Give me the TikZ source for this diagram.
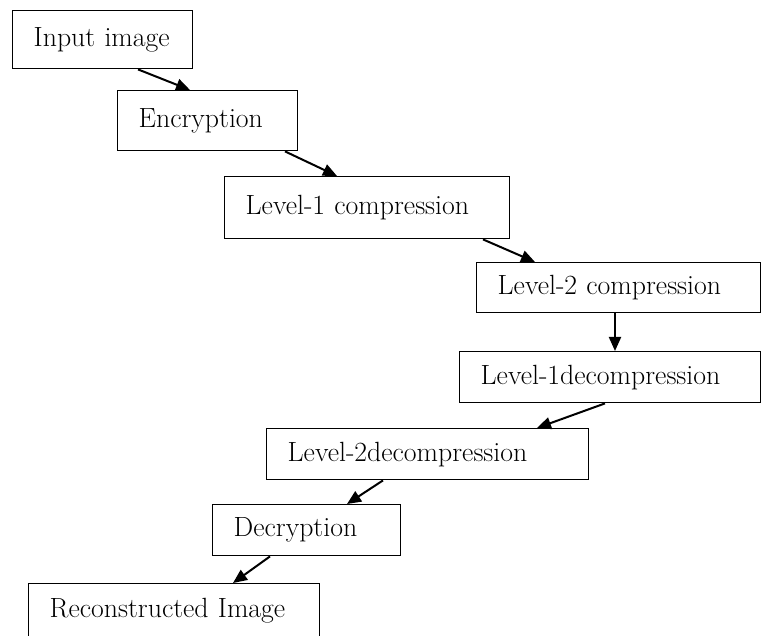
\documentclass[tikz,border=0pt]{standalone}
\usepackage{tikz}
\usetikzlibrary{arrows.meta}

\begin{document}
\begin{tikzpicture}[x=1pt,y=1pt,
stage/.style={draw,line width=1.4pt,anchor=north west,align=left,inner xsep=21pt,inner ysep=0pt,font=\fontsize{27.8}{32}\selectfont},
arr/.style={-{Triangle[length=14pt,width=12pt]},line width=2pt}]
\useasboundingbox (0,0) rectangle (766,-636);
\node[stage,text width=138pt,minimum height=58pt] (inp) at (12,-10) {Input image};
\node[stage,text width=138pt,minimum height=60pt] (enc) at (117,-90) {Encryption};
\node[stage,text width=243pt,minimum height=62pt] (cmp1) at (224,-176) {Level-1 compression};
\node[stage,text width=242pt,minimum height=50pt] (cmp2) at (476,-262) {Level-2 compression};
\node[stage,text width=259pt,minimum height=51pt] (dec1) at (459,-351) {Level-1decompression};
\node[stage,text width=280pt,minimum height=51pt] (dec2) at (266,-428) {Level-2decompression};
\node[stage,text width=146pt,minimum height=51pt] (decr) at (212,-504) {Decryption};
\node[stage,text width=249pt,minimum height=54pt] (rec) at (28,-583) {Reconstructed Image};
\draw[arr] ([xshift=126pt]inp.south west)--([xshift=73pt]enc.north west);
\draw[arr] ([xshift=168pt]enc.south west)--([xshift=113pt]cmp1.north west);
\draw[arr] ([xshift=259pt]cmp1.south west)--([xshift=59pt]cmp2.north west);
\draw[arr] ([xshift=139pt]cmp2.south west)--([xshift=156pt]dec1.north west);
\draw[arr] ([xshift=146pt]dec1.south west)--([xshift=271pt]dec2.north west);
\draw[arr] ([xshift=117pt]dec2.south west)--([xshift=135pt]decr.north west);
\draw[arr] ([xshift=58pt]decr.south west)--([xshift=205pt]rec.north west);
\end{tikzpicture}
\end{document}
